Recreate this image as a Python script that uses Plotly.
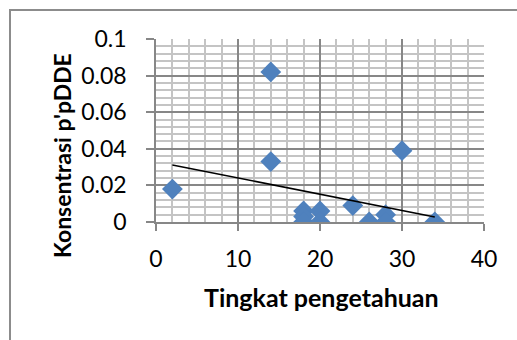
import numpy as np
import plotly.graph_objects as go

# Data
tingkat = [2, 14, 14, 18, 18, 18, 20, 20, 24, 26, 28, 28, 30, 34]
konsentrasi = [0.018, 0.082, 0.033, 0.006, 0.003, 0.0, 0.006, 0.0, 0.009, 0.0, 0.004, 0.0, 0.039, 0.0]
x_ticks = [0, 10, 20, 30, 40]
y_ticks = [0, 0.02, 0.04, 0.06, 0.08, 0.1]
y_tick_labels = ["0", "0.02", "0.04", "0.06", "0.08", "0.1"]

# Linear trend line (least squares)
slope, intercept = np.polyfit(tingkat, konsentrasi, 1)
tx = [min(tingkat), max(tingkat)]
ty = [slope * v + intercept for v in tx]

FONT = "Lato"
MAJOR = "#878787"
MINOR = "#c4c4c4"

fig = go.Figure()
fig.add_trace(go.Scatter(
    x=tingkat, y=konsentrasi, mode="markers",
    marker=dict(symbol="diamond", size=16, color="#4f81bd", line=dict(width=0)),
    showlegend=False, hoverinfo="skip"))
fig.add_trace(go.Scatter(
    x=tx, y=ty, mode="lines", line=dict(color="black", width=1.5),
    showlegend=False, hoverinfo="skip"))

fig.update_layout(
    width=517, height=340,
    margin=dict(l=156, r=33, t=39, b=118),
    paper_bgcolor="white", plot_bgcolor="white",
    font=dict(family=FONT, color="black"),
    xaxis=dict(range=[0, 40], tickvals=x_ticks, ticks="outside", ticklen=7,
               tickcolor=MAJOR, tickwidth=1.5,
               showgrid=True, gridcolor=MAJOR, gridwidth=1.5,
               minor=dict(dtick=2, showgrid=True, gridcolor=MINOR, gridwidth=2, ticks=""),
               showline=True, linecolor=MAJOR, linewidth=1.5, mirror=False,
               zeroline=False, tickfont=dict(size=23, family=FONT),
               ticklabelstandoff=9),
    yaxis=dict(range=[0, 0.1], tickvals=y_ticks, ticktext=y_tick_labels,
               ticks="outside", ticklen=8, tickcolor=MAJOR, tickwidth=1.5,
               showgrid=True, gridcolor=MAJOR, gridwidth=1.5,
               minor=dict(dtick=0.004, showgrid=True, gridcolor=MINOR, gridwidth=2, ticks=""),
               showline=True, linecolor=MAJOR, linewidth=1.5,
               zeroline=False, tickfont=dict(size=23, family=FONT),
               ticklabelstandoff=15),
)

# outer chart border
fig.add_shape(type="rect", xref="paper", yref="paper",
              x0=(10 - 156) / 328, x1=1.2, y0=-0.7, y1=(222 - 10) / 183,
              line=dict(color="#8c8c8c", width=2), fillcolor="rgba(0,0,0,0)", layer="below")

fig.add_annotation(text="<b>Tingkat pengetahuan</b>", xref="paper", yref="paper",
                   x=(321 - 156) / 328, y=(222 - 297) / 183, showarrow=False,
                   xanchor="center", yanchor="middle", font=dict(size=25, family=FONT))
fig.add_annotation(text="<b>Konsentrasi p'pDDE</b>", xref="paper", yref="paper",
                   x=(62 - 156) / 328, y=(222 - 156) / 183, showarrow=False, textangle=-90,
                   xanchor="center", yanchor="middle", font=dict(size=23, family=FONT))

fig.write_html("out.html")
